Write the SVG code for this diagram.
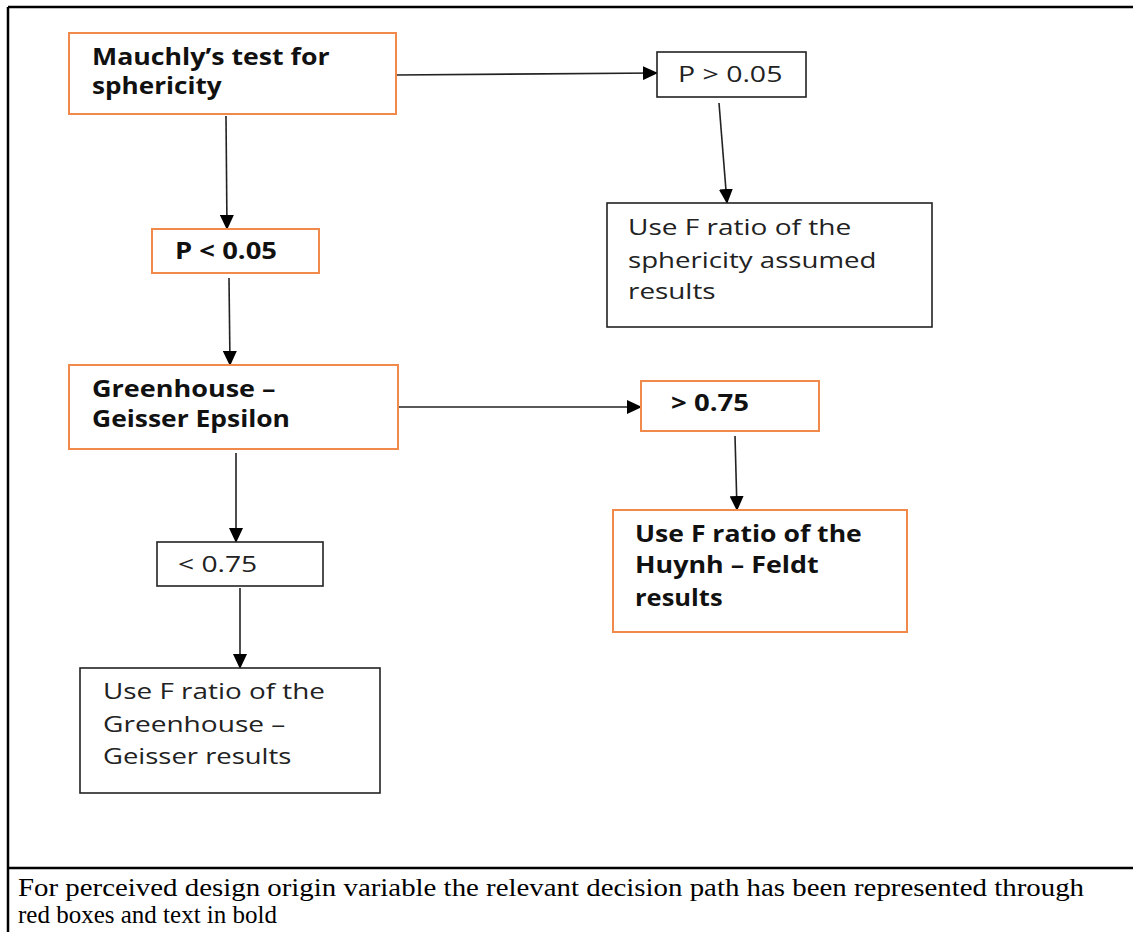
<svg xmlns="http://www.w3.org/2000/svg" width="1133" height="932" viewBox="0 0 1133 932">
<style>
.bo{fill:#fff;stroke:#F0894A;stroke-width:2}
.bk{fill:#fff;stroke:#222;stroke-width:1.6}
.t{font-family:"Open Sans","Noto Sans",sans-serif;font-size:22px;fill:#222}
.tb{font-family:"Open Sans","Noto Sans",sans-serif;font-size:22.5px;font-weight:bold;fill:#111}
.cap{font-family:"Liberation Serif","Times New Roman",serif;font-size:25px;fill:#000}
.c{stroke:#222;stroke-width:1.6;fill:none;marker-end:url(#ah)}
.frame{stroke:#000;stroke-width:2.5;fill:none}
</style>
<defs>
<marker id="ah" markerWidth="15" markerHeight="14" refX="14" refY="7" orient="auto" markerUnits="userSpaceOnUse">
<path d="M0,0 L15,7 L0,14 Z" fill="#000"/>
</marker>
</defs>
<rect width="1133" height="932" fill="#fff"/>
<g id="frame">
<path class="frame" d="M8,7 H1133 M8,7 V932 M8,868 H1133"/>
</g>
<g id="connectors">
<path class="c" d="M396,75 L657,73"/>
<path class="c" d="M226,116 L227,229"/>
<path class="c" d="M719,103 L727,203"/>
<path class="c" d="M229,278 L230,365"/>
<path class="c" d="M398,407 L641,407"/>
<path class="c" d="M236,453 L236,542"/>
<path class="c" d="M735,436 L737,510"/>
<path class="c" d="M240,588 L240,668"/>
</g>
<g id="mauchly">
<rect class="bo" x="69" y="33" width="327" height="81"/>
<text class="tb" transform="translate(92,65) scale(1.2,1)" textLength="198" lengthAdjust="spacingAndGlyphs">Mauchly’s test for</text>
<text class="tb" transform="translate(92,94) scale(1.2,1)" textLength="108" lengthAdjust="spacingAndGlyphs">sphericity</text>
</g>
<g id="p-less">
<rect class="bo" x="152" y="229" width="167" height="44"/>
<text class="tb" transform="translate(175,259) scale(1.2,1)" textLength="85" lengthAdjust="spacingAndGlyphs">P &lt; 0.05</text>
</g>
<g id="p-greater">
<rect class="bk" x="657" y="52" width="149" height="45"/>
<text class="t" transform="translate(678,82) scale(1.2,1)" textLength="87" lengthAdjust="spacingAndGlyphs">P &gt; 0.05</text>
</g>
<g id="sphericity-assumed">
<rect class="bk" x="607" y="203" width="325" height="124"/>
<text class="t" transform="translate(628,235) scale(1.2,1)" textLength="186" lengthAdjust="spacingAndGlyphs">Use F ratio of the</text>
<text class="t" transform="translate(628,268) scale(1.2,1)" textLength="207" lengthAdjust="spacingAndGlyphs">sphericity assumed</text>
<text class="t" transform="translate(628,299) scale(1.2,1)" textLength="73" lengthAdjust="spacingAndGlyphs">results</text>
</g>
<g id="greenhouse-epsilon">
<rect class="bo" x="69" y="365" width="329" height="84"/>
<text class="tb" transform="translate(92,397) scale(1.2,1)" textLength="153" lengthAdjust="spacingAndGlyphs">Greenhouse –</text>
<text class="tb" transform="translate(92,427) scale(1.2,1)" textLength="165" lengthAdjust="spacingAndGlyphs">Geisser Epsilon</text>
</g>
<g id="gt075">
<rect class="bo" x="641" y="381" width="178" height="50"/>
<text class="tb" transform="translate(671,411) scale(1.2,1)" textLength="65" lengthAdjust="spacingAndGlyphs">&gt; 0.75</text>
</g>
<g id="lt075">
<rect class="bk" x="157" y="542" width="166" height="44"/>
<text class="t" transform="translate(178,572) scale(1.2,1)" textLength="66" lengthAdjust="spacingAndGlyphs">&lt; 0.75</text>
</g>
<g id="gg-results">
<rect class="bk" x="80" y="668" width="300" height="125"/>
<text class="t" transform="translate(103,699) scale(1.2,1)" textLength="185" lengthAdjust="spacingAndGlyphs">Use F ratio of the</text>
<text class="t" transform="translate(103,732) scale(1.2,1)" textLength="152" lengthAdjust="spacingAndGlyphs">Greenhouse –</text>
<text class="t" transform="translate(103,764) scale(1.2,1)" textLength="157" lengthAdjust="spacingAndGlyphs">Geisser results</text>
</g>
<g id="hf-results">
<rect class="bo" x="613" y="510" width="294" height="122"/>
<text class="tb" transform="translate(635,542) scale(1.2,1)" textLength="189" lengthAdjust="spacingAndGlyphs">Use F ratio of the</text>
<text class="tb" transform="translate(635,573) scale(1.2,1)" textLength="153" lengthAdjust="spacingAndGlyphs">Huynh – Feldt</text>
<text class="tb" transform="translate(635,606) scale(1.2,1)" textLength="73" lengthAdjust="spacingAndGlyphs">results</text>
</g>
<g id="caption">
<text class="cap" x="18" y="896" textLength="1066" lengthAdjust="spacingAndGlyphs">For perceived design origin variable the relevant decision path has been represented through</text>
<text class="cap" x="18" y="923">red boxes and text in bold</text>
</g>
</svg>
